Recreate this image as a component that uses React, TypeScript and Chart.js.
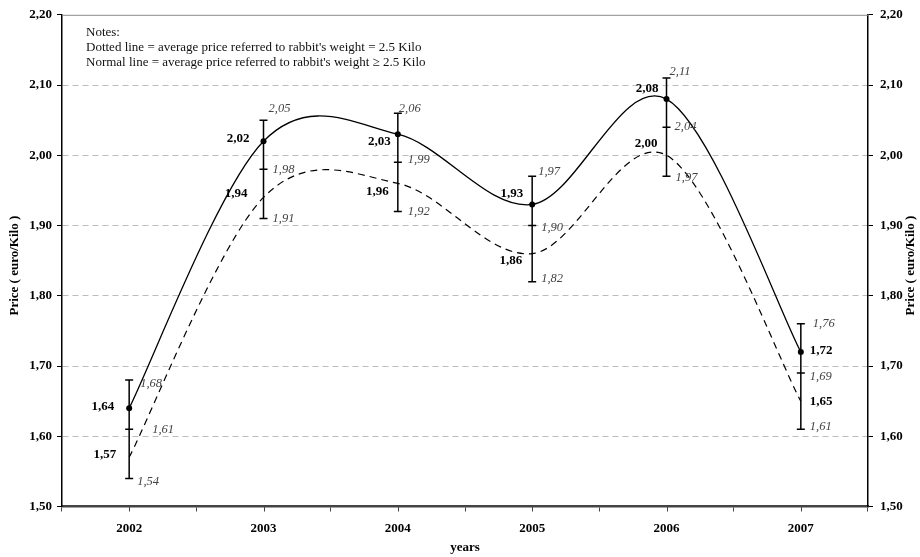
import React, { useEffect, useRef } from "react";
import { Chart, registerables } from "chart.js";

Chart.register(...registerables);

const years = ["2002", "2003", "2004", "2005", "2006", "2007"];
const priceHeavy = [1.64, 2.02, 2.03, 1.93, 2.08, 1.72]; // normal line
const priceStd = [1.57, 1.94, 1.96, 1.86, 2.0, 1.65]; // dotted line
const errHigh = [1.68, 2.05, 2.06, 1.97, 2.11, 1.76];
const errMid = [1.61, 1.98, 1.99, 1.9, 2.04, 1.69];
const errLow = [1.54, 1.91, 1.92, 1.82, 1.97, 1.61];
const yTicks = [1.5, 1.6, 1.7, 1.8, 1.9, 2.0, 2.1, 2.2];
const notes = [
  "Notes:",
  "Dotted line = average price referred to rabbit's weight = 2.5 Kilo",
  "Normal line = average price referred to rabbit's weight \u2265 2.5 Kilo",
];
const yTitle = "Price ( euro/Kilo )";
const xTitle = "years";

// label placement offsets (pixels) relative to the data point / bar end
const heavyOff: [number, number, string][] = [
  [-15, -2, "right"],
  [-14, -3, "right"],
  [-7, 7, "right"],
  [-9, -11, "right"],
  [-8, -10, "right"],
  [9, -1, "left"],
];
const stdOff: [number, number, string][] = [
  [-13, -3, "right"],
  [-16, -4, "right"],
  [-9, 8, "right"],
  [-10, 7, "right"],
  [-9, -12, "right"],
  [9, 1, "left"],
];
const highOff: [number, number][] = [[11, 4], [5, -11], [1, -4], [6, -5], [3, -6], [12, 0]];
const midOff: [number, number][] = [[23, 0], [9, 0], [10, -3], [9, 2], [8, 0], [9, 4]];
const lowOff: [number, number][] = [[8, 3], [9, 0], [10, 0], [9, -3], [9, 1], [9, -3]];

const SERIF = "'Liberation Serif', 'Times New Roman', serif";
const fmt = (v: number) => v.toFixed(2).replace(".", ",");

// Excel-like smoothing (Catmull-Rom control points in pixel space)
const smoothing = {
  id: "smoothing",
  beforeDatasetsDraw(chart: any) {
    chart.data.datasets.forEach((_d: any, di: number) => {
      const meta = chart.getDatasetMeta(di);
      const pts = meta.data;
      for (let i = 0; i < pts.length; i++) {
        const cur = pts[i];
        const prev = pts[i - 1] || cur;
        const next = pts[i + 1] || cur;
        const tx = (next.x - prev.x) / 6;
        const ty = (next.y - prev.y) / 6;
        cur.cp1x = cur.x - tx;
        cur.cp1y = cur.y - ty;
        cur.cp2x = cur.x + tx;
        cur.cp2y = cur.y + ty;
      }
      if (meta.dataset) meta.dataset._pointsUpdated = true;
    });
  },
};

const overlay = {
  id: "overlay",
  beforeDatasetsDraw(chart: any) {
    const { ctx, chartArea: a, scales } = chart;
    const x = scales.x;
    const y = scales.y;
    ctx.save();
    // top border
    ctx.strokeStyle = "#8a8a8a";
    ctx.lineWidth = 1;
    ctx.beginPath();
    ctx.moveTo(a.left, a.top + 0.5);
    ctx.lineTo(a.right, a.top + 0.5);
    ctx.stroke();
    // error bars
    ctx.strokeStyle = "#000";
    ctx.lineWidth = 1.5;
    for (let i = 0; i < years.length; i++) {
      const px = x.getPixelForValue(i);
      const yh = y.getPixelForValue(errHigh[i]);
      const ym = y.getPixelForValue(errMid[i]);
      const yl = y.getPixelForValue(errLow[i]);
      ctx.beginPath();
      ctx.moveTo(px, yh);
      ctx.lineTo(px, yl);
      for (const yy of [yh, ym, yl]) {
        ctx.moveTo(px - 4, yy);
        ctx.lineTo(px + 4, yy);
      }
      ctx.stroke();
    }
    ctx.restore();
  },
  afterDraw(chart: any) {
    const { ctx, chartArea: a, scales } = chart;
    const x = scales.x;
    const y = scales.y;
    ctx.save();
    // centre tick marks on x axis
    ctx.strokeStyle = "#444";
    ctx.lineWidth = 1;
    for (let i = 0; i < years.length; i++) {
      const px = Math.round(x.getPixelForValue(i)) + 0.5;
      ctx.beginPath();
      ctx.moveTo(px, a.bottom);
      ctx.lineTo(px, a.bottom + 5);
      ctx.stroke();
    }
    // notes
    ctx.fillStyle = "#111";
    ctx.font = `13px ${SERIF}`;
    ctx.textAlign = "left";
    ctx.textBaseline = "middle";
    notes.forEach((t, k) => ctx.fillText(t, 86, 32.5 + k * 15));
    // data labels
    ctx.textBaseline = "middle";
    for (let i = 0; i < years.length; i++) {
      const px = x.getPixelForValue(i);
      ctx.fillStyle = "#000";
      ctx.font = `bold 13px ${SERIF}`;
      const ph = y.getPixelForValue(priceHeavy[i]);
      ctx.textAlign = heavyOff[i][2] as CanvasTextAlign;
      ctx.fillText(fmt(priceHeavy[i]), px + heavyOff[i][0], ph + heavyOff[i][1]);
      const ps = y.getPixelForValue(priceStd[i]);
      ctx.textAlign = stdOff[i][2] as CanvasTextAlign;
      ctx.fillText(fmt(priceStd[i]), px + stdOff[i][0], ps + stdOff[i][1]);
      ctx.fillStyle = "#444";
      ctx.font = `italic 12.5px ${SERIF}`;
      ctx.textAlign = "left";
      ctx.fillText(fmt(errHigh[i]), px + highOff[i][0], y.getPixelForValue(errHigh[i]) + highOff[i][1]);
      ctx.fillText(fmt(errMid[i]), px + midOff[i][0], y.getPixelForValue(errMid[i]) + midOff[i][1]);
      ctx.fillText(fmt(errLow[i]), px + lowOff[i][0], y.getPixelForValue(errLow[i]) + lowOff[i][1]);
    }
    // axis titles
    ctx.fillStyle = "#000";
    ctx.font = `bold 13px ${SERIF}`;
    ctx.textAlign = "center";
    ctx.textBaseline = "middle";
    ctx.fillText(xTitle, (a.left + a.right) / 2, 548);
    const cy = (a.top + a.bottom) / 2 + 5;
    for (const tx of [15, 911]) {
      ctx.save();
      ctx.translate(tx, cy);
      ctx.rotate(-Math.PI / 2);
      ctx.fillText(yTitle, 0, 0);
      ctx.restore();
    }
    ctx.restore();
  },
};

export default function App() {
  const ref = useRef<HTMLCanvasElement>(null);
  useEffect(() => {
    document.body.style.margin = "0";
    const tickFont = { family: SERIF, size: 13, weight: "bold" as const };
    const yScaleBase = {
      type: "linear" as const,
      min: 1.5,
      max: 2.2,
      afterBuildTicks: (s: any) => {
        s.ticks = yTicks.map((v) => ({ value: v }));
      },
    };
    const chart = new Chart(ref.current!, {
      type: "line",
      data: {
        labels: years,
        datasets: [
          {
            data: priceHeavy,
            borderColor: "#000",
            borderWidth: 1.3,
            tension: 0.4,
            pointRadius: 3,
            pointBackgroundColor: "#000",
            pointBorderColor: "#000",
            pointBorderWidth: 0,
            yAxisID: "y",
          },
          {
            data: priceStd,
            borderColor: "#000",
            borderWidth: 1.2,
            borderDash: [7, 5],
            tension: 0.4,
            pointRadius: 0,
            yAxisID: "y",
          },
        ],
      },
      options: {
        animation: false,
        responsive: false,
        layout: { padding: { top: 12.5, left: 0, right: 0, bottom: 0 } },
        plugins: { legend: { display: false }, tooltip: { enabled: false } },
        scales: {
          x: {
            type: "category",
            offset: true,
            grid: {
              offset: true,
              drawOnChartArea: false,
              tickLength: 5,
              tickColor: "#444",
            },
            border: { color: "#444", width: 2.5 },
            ticks: { font: tickFont, color: "#000", padding: 9, maxRotation: 0 },
            afterFit: (s: any) => {
              s.height = 50.5;
            },
          },
          y: {
            ...yScaleBase,
            position: "left",
            grid: {
              color: (c: any) =>
                c.index === 0 || c.index === yTicks.length - 1 ? "rgba(0,0,0,0)" : "#bdbdbd",
              tickColor: "#000",
              tickLength: 5,
              lineWidth: 1,
            },
            border: { color: "#000", width: 1.5, dash: [6, 4] },
            ticks: { font: tickFont, color: "#000", padding: 5, callback: (v: any) => fmt(Number(v)) },
            afterFit: (s: any) => {
              s.width = 62;
            },
          },
          y2: {
            ...yScaleBase,
            position: "right",
            grid: { drawOnChartArea: false, tickColor: "#000", tickLength: 5 },
            border: { color: "#000", width: 1.5 },
            ticks: { font: tickFont, color: "#000", padding: 7, callback: (v: any) => fmt(Number(v)) },
            afterFit: (s: any) => {
              s.width = 52;
            },
          },
        },
      },
      plugins: [smoothing, overlay],
    });
    return () => chart.destroy();
  }, []);
  return <canvas ref={ref} width={920} height={557} style={{ display: "block" }} />;
}
